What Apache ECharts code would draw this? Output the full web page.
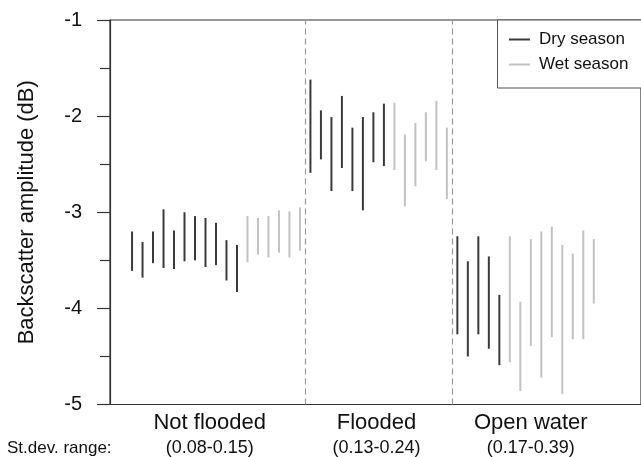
<!DOCTYPE html>
<html>
<head>
<meta charset="utf-8">
<script src="https://cdn.jsdelivr.net/npm/echarts@6/dist/echarts.min.js"></script>
<style>
html,body{margin:0;padding:0;background:#fff;}
#chart{width:641px;height:457px;}
</style>
</head>
<body>
<div id="chart"></div>
<script>
// ---- data ----
const groups = ['Not flooded', 'Flooded', 'Open water'];
const sdRanges = ['(0.08-0.15)', '(0.13-0.24)', '(0.17-0.39)'];
const yTicks = [-5, -4, -3, -2, -1];

const nfDryHigh = [-3.20, -3.31, -3.20, -2.97, -3.19, -3.00, -3.04, -3.06, -3.11, -3.29, -3.34];
const nfDryLow  = [-3.61, -3.68, -3.53, -3.58, -3.59, -3.51, -3.50, -3.57, -3.55, -3.71, -3.83];
const nfWetHigh = [-3.04, -3.06, -3.04, -2.98, -2.99, -2.95];
const nfWetLow  = [-3.52, -3.44, -3.47, -3.42, -3.47, -3.40];

const flDryHigh = [-1.62, -1.94, -2.01, -1.79, -2.12, -2.01, -1.96, -1.87];
const flDryLow  = [-2.59, -2.45, -2.78, -2.54, -2.78, -2.98, -2.48, -2.52];
const flWetHigh = [-1.86, -2.19, -2.07, -1.96, -1.84, -2.12];
const flWetLow  = [-2.56, -2.94, -2.73, -2.47, -2.56, -2.86];

const owDryHigh = [-3.25, -3.51, -3.25, -3.46, -3.86];
const owDryLow  = [-4.27, -4.50, -4.27, -4.42, -4.59];
const owWetHigh = [-3.25, -3.93, -3.28, -3.20, -3.15, -3.34, -3.43, -3.19, -3.28];
const owWetLow  = [-4.56, -4.86, -4.39, -4.72, -4.30, -4.89, -4.32, -4.32, -3.95];

// ---- build series data (position index, low, high) ----
const groupSets = [
  [nfDryLow, nfDryHigh, nfWetLow, nfWetHigh],
  [flDryLow, flDryHigh, flWetLow, flWetHigh],
  [owDryLow, owDryHigh, owWetLow, owWetHigh]
];
const dryData = [], wetData = [], separators = [];
let pos = 1;
groupSets.forEach(function (g, gi) {
  g[0].forEach(function (lo, i) { dryData.push([pos, lo, g[1][i]]); pos++; });
  g[2].forEach(function (lo, i) { wetData.push([pos, lo, g[3][i]]); pos++; });
  if (gi < groupSets.length - 1) separators.push(pos - 0.5);
});
// where the group labels sit along the x axis (as in the picture)
const labelAt = [8.4, 24.3, 39.0];

const FONT = '"Liberation Sans", Arial, Helvetica, sans-serif';

function renderRange(params, api) {
  const x = api.value(0);
  const p1 = api.coord([x, api.value(2)]);
  const p2 = api.coord([x, api.value(1)]);
  return {
    type: 'line',
    shape: { x1: p1[0], y1: p1[1], x2: p2[0], y2: p2[1] },
    style: { stroke: api.visual('color'), lineWidth: 2 }
  };
}

const chart = echarts.init(document.getElementById('chart'), null, { renderer: 'canvas' });
chart.setOption({
  backgroundColor: '#fff',
  animation: false,
  grid: {
    left: 110, top: 20, width: 540, height: 384.5,
    show: true, borderColor: '#333', borderWidth: 1.2, backgroundColor: 'transparent'
  },
  legend: {
    data: ['Dry season', 'Wet season'],
    orient: 'vertical',
    left: 497, top: 20,
    padding: [11, 5, 14, 12],
    itemGap: 8,
    itemWidth: 21, itemHeight: 2,
    icon: 'rect',
    borderWidth: 0,
    z: 10,
    textStyle: { fontFamily: FONT, fontSize: 17, color: '#111', padding: [0, 0, 0, 4] }
  },
  xAxis: {
    type: 'value',
    min: -1.1, max: 49.5,
    splitLine: { show: false },
    axisTick: { show: false },
    axisLine: { show: true, onZero: false, lineStyle: { color: '#333', width: 1.2 } },
    axisLabel: {
      customValues: labelAt,
      margin: 6,
      formatter: function (v) {
        const i = labelAt.indexOf(v);
        if (i < 0) return '';
        return '{n|' + groups[i] + '}\n{s|' + sdRanges[i] + '}';
      },
      rich: {
        n: { fontFamily: FONT, fontSize: 22, lineHeight: 25, color: '#111' },
        s: { fontFamily: FONT, fontSize: 18, lineHeight: 25, color: '#111' }
      }
    }
  },
  yAxis: {
    type: 'value',
    min: yTicks[0], max: yTicks[yTicks.length - 1], interval: 1,
    name: 'Backscatter amplitude (dB)',
    nameLocation: 'middle',
    nameRotate: 90,
    nameGap: 72,
    nameTextStyle: { fontFamily: FONT, fontSize: 22, color: '#111' },
    splitLine: { show: false },
    axisLine: { show: true, onZero: false, lineStyle: { color: '#333', width: 1.2 } },
    axisTick: { show: true, length: 13, lineStyle: { color: '#333', width: 1.2 } },
    minorTick: { show: true, splitNumber: 2, length: 10, lineStyle: { color: '#333', width: 1.2 } },
    axisLabel: { fontFamily: FONT, fontSize: 20, color: '#111', margin: 28 }
  },
  graphic: [
    {
      type: 'rect', z: 5,
      shape: { x: 497.5, y: 20, width: 200, height: 68 },
      style: { fill: '#fff', stroke: '#555', lineWidth: 1 }
    },
    {
      type: 'text', left: 7, top: 440,
      style: { text: 'St.dev. range:', fontFamily: FONT, fontSize: 17, fill: '#111' }
    }
  ],
  series: [
    {
      name: 'Dry season', type: 'custom', renderItem: renderRange,
      encode: { x: 0, y: [1, 2] },
      itemStyle: { color: '#3a3a3a' },
      data: dryData,
      markLine: {
        silent: true, symbol: 'none', label: { show: false },
        lineStyle: { color: '#9a9a9a', type: [6, 4], width: 1.2 },
        data: separators.map(function (s) { return { xAxis: s }; })
      }
    },
    {
      name: 'Wet season', type: 'custom', renderItem: renderRange,
      encode: { x: 0, y: [1, 2] },
      itemStyle: { color: '#c2c2c2' },
      data: wetData
    }
  ]
});
</script>
</body>
</html>
